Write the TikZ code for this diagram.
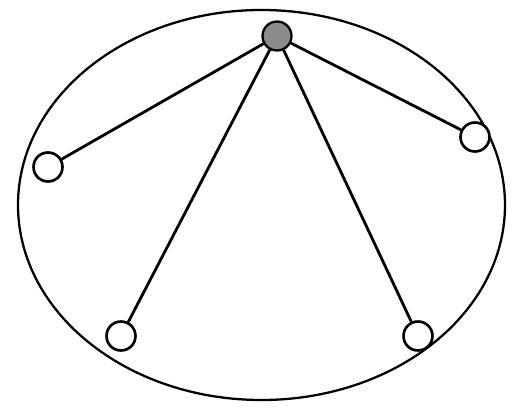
\documentclass[tikz,border=0pt]{standalone}
\usetikzlibrary{positioning}

\begin{document}
\begin{tikzpicture}[
    x=0.02cm, y=-0.02cm,
    hub/.style={circle, draw=black, fill=black!45, line width=1.3pt, minimum size=0.58cm, inner sep=0pt},
    leaf/.style={circle, draw=black, fill=white, line width=1.5pt, minimum size=0.58cm, inner sep=0pt},
    spoke/.style={draw=black, line width=1.6pt}
  ]
    \useasboundingbox (0,0) rectangle (521,409);
    \draw[line width=1.3pt] (261.5,205) ellipse [x radius=243.5, y radius=195];
    \node[hub]  (h)  at (277,36)  {};
    \node[leaf] (l1) at (48,167)  {};
    \node[leaf] (l2) at (475,137) {};
    \node[leaf] (l3) at (121,336) {};
    \node[leaf] (l4) at (418,336) {};
    \draw[spoke] (h) -- (l1);
    \draw[spoke] (h) -- (l2);
    \draw[spoke] (h) -- (l3);
    \draw[spoke] (h) -- (l4);
  \end{tikzpicture}
\end{document}
